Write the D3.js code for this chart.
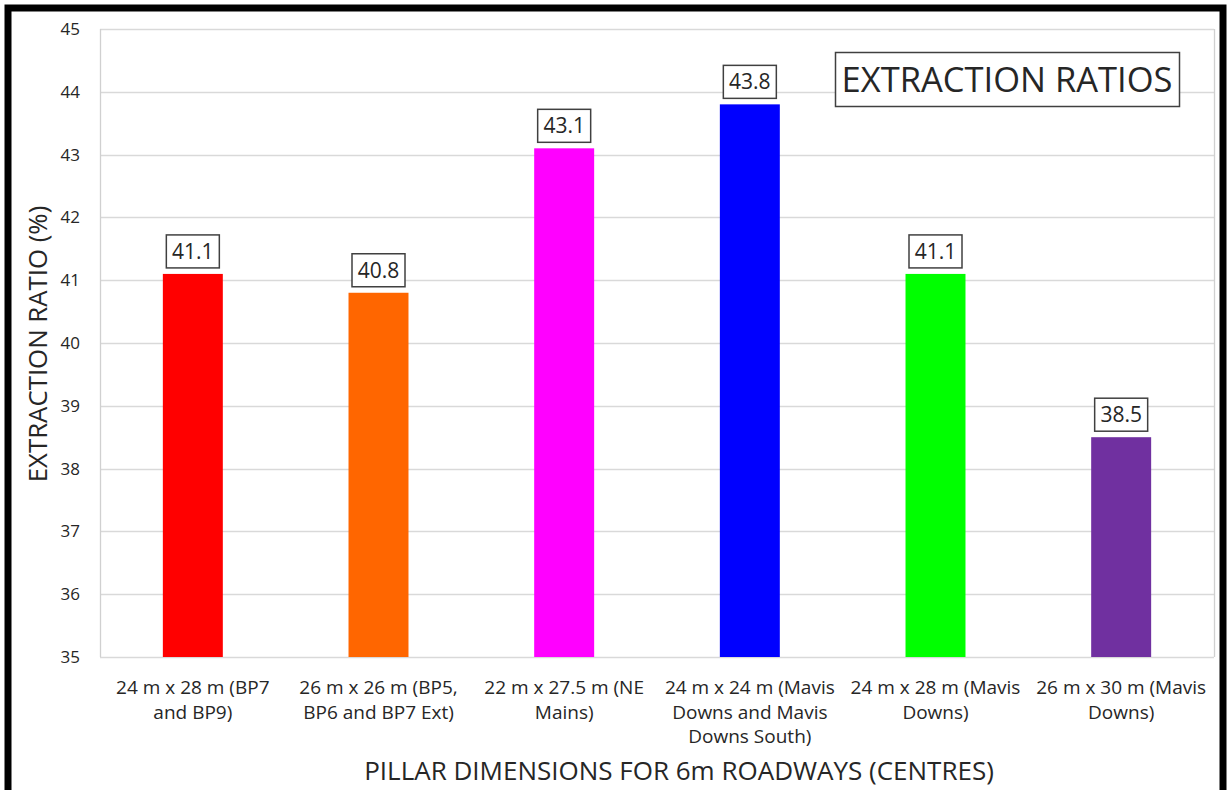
<!DOCTYPE html>
<html>
<head>
<meta charset="utf-8">
<script src="https://cdn.jsdelivr.net/npm/d3@7"></script>
<style>
  html, body { margin: 0; padding: 0; background: #fff; }
  svg { display: block; }
  text { font-family: "Open Sans", "Noto Sans", sans-serif; fill: #262626; }
</style>
</head>
<body>
<svg id="chart" width="1227" height="790"></svg>
<script>
// Pillar layouts and their extraction ratios
const categories = [
  ["24 m x 28 m (BP7", "and BP9)"],
  ["26 m x 26 m (BP5,", "BP6 and BP7 Ext)"],
  ["22 m x 27.5 m (NE", "Mains)"],
  ["24 m x 24 m (Mavis", "Downs and Mavis", "Downs South)"],
  ["24 m x 28 m (Mavis", "Downs)"],
  ["26 m x 30 m (Mavis", "Downs)"]
];
const ratios = [41.1, 40.8, 43.1, 43.8, 41.1, 38.5];
const barColors = ["#FF0000", "#FF6600", "#FF00FF", "#0000FF", "#00FF00", "#7030A0"];
const yTicks = [35, 36, 37, 38, 39, 40, 41, 42, 43, 44, 45];

const svg = d3.select("#chart");
const W = 1227, H = 790;
const plot = { left: 100, right: 1214, top: 29, bottom: 657 };

// outer frame
svg.append("rect").attr("x", 8).attr("y", 8).attr("width", W - 12).attr("height", H + 20)
  .attr("fill", "none").attr("stroke", "#000").attr("stroke-width", 7);

const x = d3.scaleBand().domain(d3.range(categories.length))
  .range([plot.left, plot.right]).paddingInner(0.677).paddingOuter(0.3385);
const y = d3.scaleLinear().domain([35, 45]).range([plot.bottom, plot.top]);

// gridlines
svg.append("g").selectAll("line").data(yTicks).join("line")
  .attr("x1", plot.left).attr("x2", plot.right)
  .attr("y1", d => Math.round(y(d)) + 0.5).attr("y2", d => Math.round(y(d)) + 0.5)
  .attr("stroke", "#d9d9d9").attr("stroke-width", 1.3);

// plot border (left and right edges)
svg.append("line").attr("x1", plot.left + 0.5).attr("x2", plot.left + 0.5)
  .attr("y1", plot.top).attr("y2", plot.bottom).attr("stroke", "#d0d0d0").attr("stroke-width", 1.3);
svg.append("line").attr("x1", plot.right + 0.5).attr("x2", plot.right + 0.5)
  .attr("y1", plot.top).attr("y2", plot.bottom).attr("stroke", "#d0d0d0").attr("stroke-width", 1.3);

// y axis labels
const yAxis = d3.axisLeft(y).tickValues(yTicks).tickSize(0).tickPadding(20).tickFormat(d3.format("d"));
const gy = svg.append("g").attr("transform", `translate(${plot.left},0)`).call(yAxis);
gy.select(".domain").remove();
gy.selectAll("text").style("font-size", "17px").style("font-family", null).attr("fill", "#262626");

// bars
svg.append("g").selectAll("rect").data(ratios).join("rect")
  .attr("x", (d, i) => x(i)).attr("width", x.bandwidth())
  .attr("y", d => y(d)).attr("height", d => y(35) - y(d))
  .attr("fill", (d, i) => barColors[i]);

// value labels in boxes
const lbl = svg.append("g").selectAll("g").data(ratios).join("g")
  .attr("transform", (d, i) => `translate(${x(i) + x.bandwidth() / 2},${y(d) - 22.5})`);
lbl.append("rect").attr("x", -26.5).attr("y", -16.5).attr("width", 53).attr("height", 33)
  .attr("fill", "#fff").attr("stroke", "#404040").attr("stroke-width", 1.5);
lbl.append("text").attr("text-anchor", "middle").attr("dy", "0.36em")
  .style("font-size", "21px").text(d => d.toFixed(1));

// category labels
const cat = svg.append("g").selectAll("text").data(categories).join("text")
  .attr("text-anchor", "middle").style("font-size", "19px")
  .attr("transform", (d, i) => `translate(${x(i) + x.bandwidth() / 2},694)`);
cat.selectAll("tspan").data(d => d).join("tspan")
  .attr("x", 0).attr("y", (d, j) => j * 24.5).text(d => d);

// axis titles
svg.append("text").attr("x", 679).attr("y", 780)
  .attr("text-anchor", "middle").style("font-size", "26px")
  .text("PILLAR DIMENSIONS FOR 6m ROADWAYS (CENTRES)");
svg.append("text").attr("transform", "translate(47,344) rotate(-90)")
  .attr("text-anchor", "middle").style("font-size", "25.8px")
  .text("EXTRACTION RATIO (%)");

// chart title box
const t = svg.append("g");
t.append("rect").attr("x", 835.5).attr("y", 52.5).attr("width", 344).attr("height", 54)
  .attr("fill", "#fff").attr("stroke", "#404040").attr("stroke-width", 1.5);
t.append("text").attr("x", 1007).attr("y", 80).attr("dy", "0.36em").attr("text-anchor", "middle")
  .style("font-size", "34.5px").attr("fill", "#000").text("EXTRACTION RATIOS");
</script>
</body>
</html>
